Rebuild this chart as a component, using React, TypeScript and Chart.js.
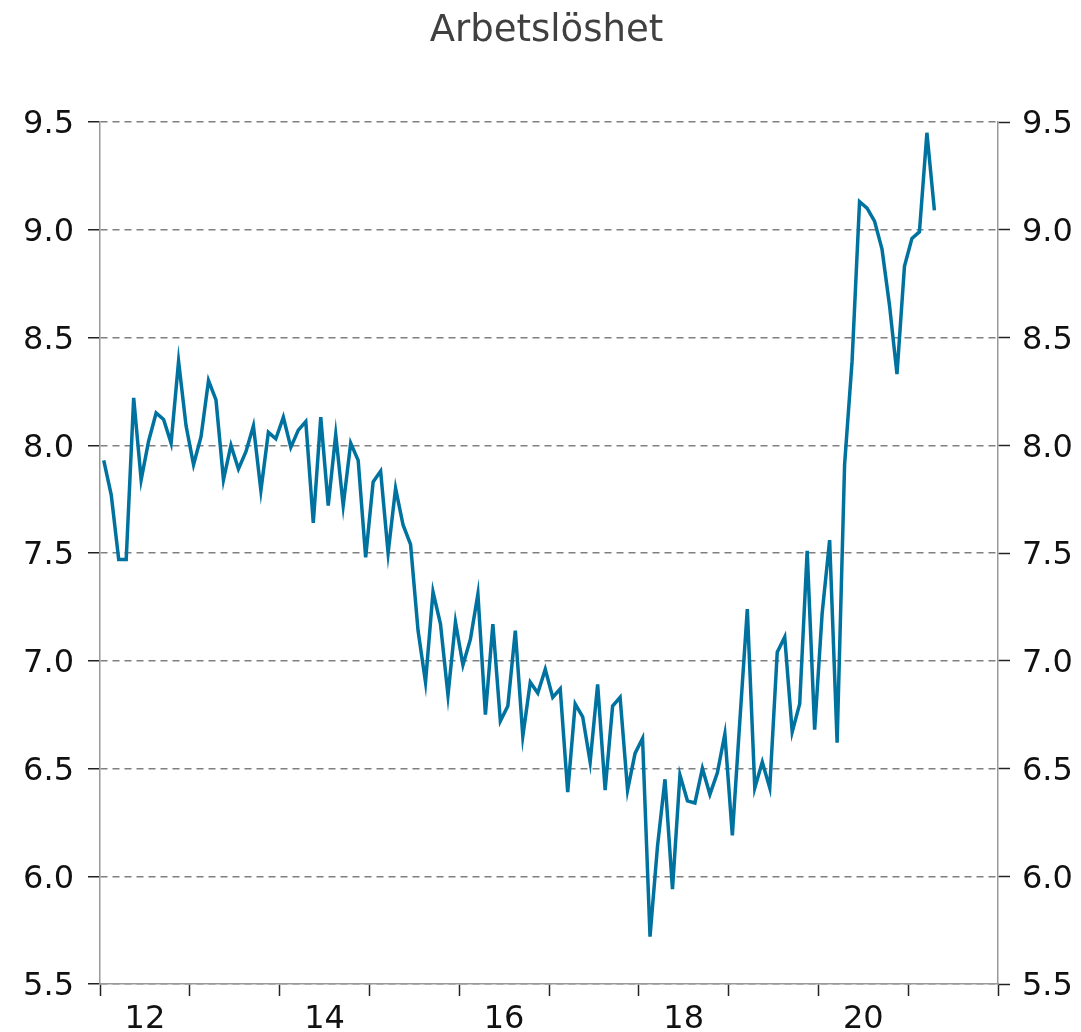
import React, { useEffect, useRef } from "react";
import { Chart, registerables } from "chart.js";

Chart.register(...registerables);

const title = "Arbetslöshet";
const years = ["12", "13", "14", "15", "16", "17", "18", "19", "20", "21"];
const labeledYears = ["12", "14", "16", "18", "20"];
const yMin = 5.5;
const yMax = 9.5;
const yStep = 0.5;

// Monthly values, Jan 2012 – Apr 2021
const unemployment = [
  7.93, 7.77, 7.47, 7.47, 8.22, 7.84, 8.02, 8.15, 8.12, 8.01, 8.39, 8.09,
  7.91, 8.04, 8.30, 8.21, 7.84, 8.00, 7.89, 7.97, 8.09, 7.79, 8.06, 8.03,
  8.13, 7.99, 8.07, 8.11, 7.64, 8.13, 7.72, 8.05, 7.72, 8.01, 7.93, 7.48,
  7.83, 7.88, 7.50, 7.80, 7.63, 7.54, 7.14, 6.90, 7.32, 7.17, 6.84, 7.18,
  6.98, 7.10, 7.31, 6.75, 7.17, 6.72, 6.79, 7.14, 6.65, 6.90, 6.85, 6.96,
  6.83, 6.87, 6.39, 6.80, 6.74, 6.53, 6.89, 6.40, 6.79, 6.83, 6.40, 6.57,
  6.64, 5.72, 6.14, 6.45, 5.94, 6.47, 6.35, 6.34, 6.50, 6.38, 6.48, 6.66,
  6.19, 6.72, 7.24, 6.41, 6.53, 6.41, 7.04, 7.11, 6.67, 6.80, 7.51, 6.68,
  7.22, 7.56, 6.62, 7.91, 8.39, 9.13, 9.10, 9.04, 8.91, 8.65, 8.33, 8.83,
  8.96, 8.99, 9.45, 9.09,
];

const FONT = "'DejaVu Sans', Verdana, sans-serif";
const LINE_COLOR = "#00729f";
const GRID_COLOR = "#808080";
const AXIS_COLOR = "#999999";
const TICK_COLOR = "#222222";

const isBoundary = (v: number) => Math.abs(((v + 0.5) % 12 + 12) % 12) < 1e-6;

export default function App() {
  const ref = useRef<HTMLCanvasElement | null>(null);

  useEffect(() => {
    if (!ref.current) return;
    const points = unemployment.map((v, i) => ({ x: i, y: v }));
    const chart = new Chart(ref.current, {
      type: "line",
      data: {
        datasets: [
          {
            data: points,
            borderColor: LINE_COLOR,
            borderWidth: 3.5,
            pointRadius: 0,
            tension: 0,
            fill: false,
          },
        ],
      },
      options: {
        animation: false,
        responsive: true,
        maintainAspectRatio: false,
        layout: { padding: { left: 12, right: 0, top: 0, bottom: 0 } },
        plugins: {
          legend: { display: false },
          tooltip: { enabled: false },
          title: {
            display: true,
            text: title,
            color: "#404040",
            font: { family: FONT, size: 37, weight: "normal", lineHeight: 1 },
            padding: { top: 5, bottom: 72 },
          },
        },
        scales: {
          x: {
            type: "linear",
            position: "bottom",
            min: -0.5,
            max: years.length * 12 - 0.5,
            afterBuildTicks: (scale: any) => {
              const t: { value: number }[] = [];
              for (let i = 0; i <= years.length; i++) {
                t.push({ value: i * 12 - 0.5 });
                if (i < years.length) t.push({ value: i * 12 + 5.5 });
              }
              scale.ticks = t;
            },
            afterFit: (scale: any) => {
              scale.height = 48;
            },
            ticks: {
              autoSkip: false,
              maxRotation: 0,
              minRotation: 0,
              padding: 4,
              color: "#111111",
              font: { family: FONT, size: 32 },
              callback: (value: any) => {
                const v = Number(value);
                if (isBoundary(v)) return "";
                const idx = Math.round((v - 5.5) / 12);
                const lab = years[idx];
                return labeledYears.includes(lab) ? lab : "";
              },
            },
            grid: {
              drawOnChartArea: false,
              drawTicks: true,
              tickLength: 12,
              tickWidth: 1.5,
              tickColor: (ctx: any) =>
                ctx.tick && isBoundary(ctx.tick.value) ? TICK_COLOR : "rgba(0,0,0,0)",
            },
            border: { display: true, color: AXIS_COLOR, width: 1.5 },
          },
          y: {
            position: "left",
            min: yMin,
            max: yMax,
            afterFit: (scale: any) => {
              scale.width = 80;
            },
            ticks: {
              stepSize: yStep,
              padding: 14,
              labelOffset: 3,
              color: "#111111",
              font: { family: FONT, size: 32 },
              callback: (v: any) => Number(v).toFixed(1),
            },
            grid: {
              color: GRID_COLOR,
              lineWidth: 1.5,
              drawTicks: true,
              tickLength: 12,
              tickColor: TICK_COLOR,
              tickWidth: 1.5,
            },
            border: { display: true, color: AXIS_COLOR, width: 1.5, dash: [7, 5] },
          },
          y2: {
            position: "right",
            min: yMin,
            max: yMax,
            afterFit: (scale: any) => {
              scale.width = 75;
            },
            ticks: {
              stepSize: yStep,
              padding: 12,
              labelOffset: 3,
              color: "#111111",
              font: { family: FONT, size: 32 },
              callback: (v: any) => Number(v).toFixed(1),
            },
            grid: {
              drawOnChartArea: false,
              drawTicks: true,
              tickLength: 12,
              tickColor: TICK_COLOR,
              tickWidth: 1.5,
            },
            border: { display: true, color: AXIS_COLOR, width: 1.5 },
          },
        },
      } as any,
    });
    return () => chart.destroy();
  }, []);

  return (
    <div style={{ position: "relative", width: "1065px", height: "1024px" }}>
      <canvas ref={ref} />
    </div>
  );
}
